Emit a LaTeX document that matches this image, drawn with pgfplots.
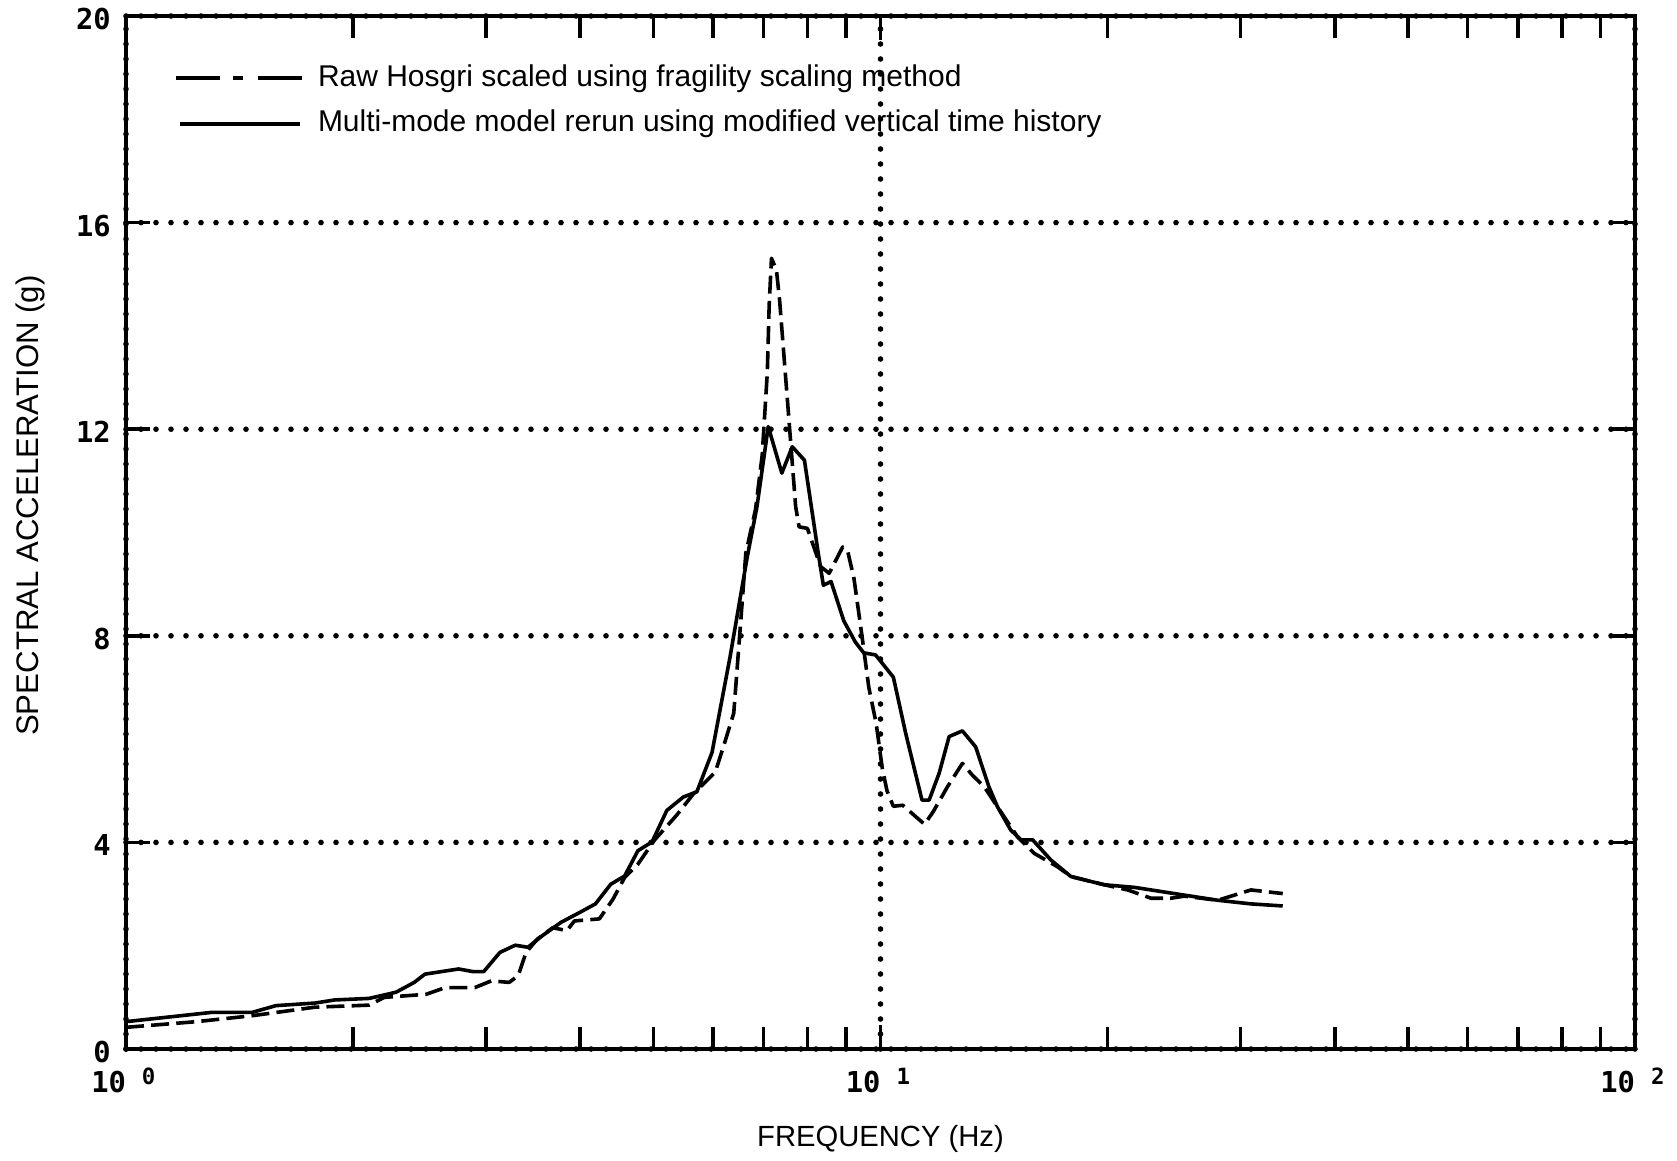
\documentclass[border=0pt]{standalone}
\usepackage{fontspec}
\setmainfont{Liberation Sans}
\newfontfamily\tickfont{DejaVu Sans Mono}
\usepackage{pgfplots}
\pgfplotsset{compat=1.18}
\newcommand\xlab[1]{\makebox[0pt][r]{10}\makebox[0pt][l]{\hspace{4pt}\raisebox{2pt}{\fontsize{5.6}{6}\selectfont #1}}}
\begin{document}
\begin{tikzpicture}
\begin{axis}[name=ax, xmode=log, xmin=1, xmax=100, ymin=0, ymax=20,
  scale only axis, width=377.25pt, height=258.25pt,
  xtick={1,10,100}, xticklabels={\xlab{0},\xlab{1},\xlab{2}},
  minor xtick={2,3,4,5,6,7,8,9,20,30,40,50,60,70,80,90},
  ytick={0,4,8,12,16,20}, yticklabels={0,4,8,12,16,20},
  xtick pos=both, ytick pos=both,
  tick align=inside, major tick length=6pt, minor tick length=5.5pt,
  tick style={line width=0.9pt, black},
  axis line style={line width=1pt},
  grid=major,
  major grid style={black, line width=1.4pt, line cap=round, dash pattern=on 0pt off 3.75pt},
  xticklabel style={font=\tickfont\bfseries\fontsize{7.2}{8}\selectfont, anchor=north, inner sep=0pt, yshift=-4.5pt},
  yticklabel style={font=\tickfont\bfseries\fontsize{7.2}{8}\selectfont, anchor=east, inner sep=0pt, xshift=-3.6pt, yshift=-0.75pt},
  xlabel={FREQUENCY (Hz)},
  xlabel style={at={(axis description cs:0.5,0)}, anchor=base, yshift=-24.4pt, inner sep=0pt, font=\fontsize{7.3}{8}\selectfont},
  ylabel={SPECTRAL ACCELERATION (g)},
  ylabel style={at={(axis description cs:-0.0636,0.526)}, anchor=center, inner sep=0pt, font=\fontsize{7.8}{9}\selectfont},
  legend style={at={(rel axis cs:0,1)}, anchor=north west, xshift=11.75pt, yshift=-11.9pt,
    draw=none, fill=none, inner xsep=0pt, inner ysep=0pt, row sep=4.5pt, column sep=3.4pt,
    nodes={inner sep=0pt}, font=\fontsize{7.5}{9}\selectfont},
  legend cell align=left,
]
\addplot[black, line width=0.9pt, line join=round, dash pattern=on 4.5pt off 1.8pt,
  legend image code/.code={\draw[black, line width=0.9pt, dash pattern=on 11pt off 3.25pt on 2.5pt off 3.75pt] (0pt,0pt) -- (31.75pt,0pt);}]
coordinates {
(1.00,0.42) (1.24,0.53) (1.47,0.645) (1.78,0.81) (2.10,0.85) (2.20,1.00) (2.50,1.06)
(2.65,1.19) (2.90,1.19) (3.05,1.32) (3.22,1.29) (3.31,1.42) (3.39,1.87) (3.51,2.13)
(3.68,2.35) (3.84,2.29) (3.93,2.48) (4.24,2.52) (4.42,2.90) (4.58,3.32) (4.77,3.58)
(5.02,4.05) (5.37,4.53) (5.65,4.94) (6.04,5.36) (6.20,5.88) (6.39,6.50) (6.53,8.30)
(6.63,9.60) (6.83,10.45) (6.97,11.50) (7.08,13.10) (7.12,14.40) (7.17,15.31) (7.28,15.08)
(7.35,14.50) (7.54,12.44) (7.72,10.50) (7.80,10.11) (8.00,10.08) (8.33,9.34) (8.55,9.21)
(8.91,9.72) (9.05,9.63) (9.22,9.12) (9.45,8.00) (9.65,7.00) (9.87,6.30) (10.05,5.45)
(10.20,5.00) (10.40,4.70) (10.70,4.72) (11.44,4.35) (11.75,4.60) (12.27,5.08) (12.84,5.53)
(13.24,5.30) (13.72,5.08) (14.29,4.69) (15.19,4.11) (15.98,3.79) (17.16,3.53) (17.88,3.34)
(19.80,3.18) (21.26,3.08) (22.83,2.92) (24.27,2.92) (25.27,2.96) (27.99,2.88) (30.98,3.08)
(32.27,3.05) (34.13,3.01)
};
\addlegendentry{Raw Hosgri scaled using fragility scaling method}
\addplot[black, line width=0.9pt, line join=round,
  legend image code/.code={\draw[black, line width=0.9pt] (1pt,0pt) -- (31pt,0pt);}]
coordinates {
(1.00,0.53) (1.30,0.71) (1.47,0.71) (1.58,0.84) (1.78,0.89) (1.89,0.95) (2.10,0.98)
(2.28,1.10) (2.41,1.29) (2.49,1.45) (2.76,1.55) (2.88,1.50) (2.98,1.50) (3.13,1.87)
(3.28,2.01) (3.41,1.97) (3.56,2.19) (3.77,2.45) (4.00,2.65) (4.19,2.81) (4.39,3.19)
(4.58,3.35) (4.77,3.84) (4.98,4.01) (5.21,4.62) (5.48,4.88) (5.71,4.98) (5.98,5.74)
(6.32,7.60) (6.66,9.53) (6.86,10.50) (7.10,12.05) (7.40,11.15) (7.64,11.66) (7.93,11.40)
(8.27,9.60) (8.40,8.98) (8.60,9.05) (8.94,8.29) (9.26,7.88) (9.50,7.67) (9.85,7.63)
(10.40,7.20) (10.80,6.11) (11.35,4.82) (11.60,4.82) (11.96,5.34) (12.33,6.05) (12.84,6.16)
(13.37,5.85) (13.92,5.08) (14.29,4.69) (14.88,4.24) (15.35,4.05) (15.91,4.05) (16.82,3.66)
(17.88,3.34) (19.80,3.18) (21.70,3.13) (25.27,2.98) (27.99,2.88) (30.98,2.81) (34.13,2.77)
};
\addlegendentry{Multi-mode model rerun using modified vertical time history}
\end{axis}
\pgfresetboundingbox
\path[use as bounding box] ([xshift=-31.5pt,yshift=-27.75pt]ax.south west) rectangle ([xshift=10.5pt,yshift=4pt]ax.north east);
\end{tikzpicture}
\end{document}
